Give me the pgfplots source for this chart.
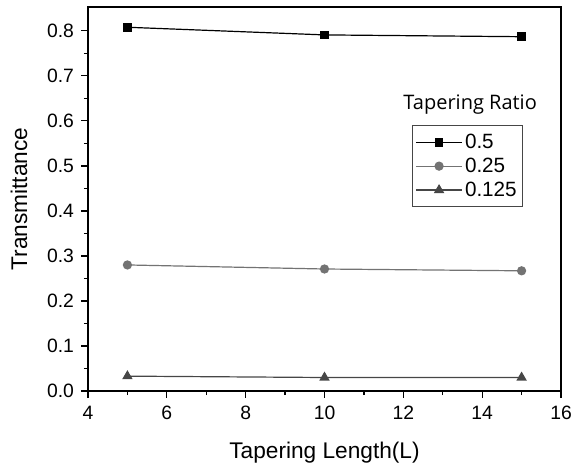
\documentclass[border=0pt]{standalone}
\usepackage{fontspec}
\setmainfont{Liberation Sans}
\newfontfamily\titlefont{Open Sans}
\usepackage{pgfplots}
\pgfplotsset{compat=1.18}
\definecolor{midgray}{RGB}{115,115,115}
\definecolor{darkgray}{RGB}{70,70,70}

\begin{document}
\begin{tikzpicture}
% page outline to fix proportions (573x468 px at 0.75pt/px)
\path[use as bounding box] (-66pt,-57.75pt) rectangle (363.75pt,293.25pt);
\begin{axis}[
  at={(0pt,0pt)}, anchor=south west,
  scale only axis,
  width=354.75pt, height=288pt,
  xmin=4, xmax=16, ymin=0, ymax=0.853,
  xtick={4,6,...,16},
  ytick={0,0.1,...,0.8},
  minor x tick num=1,
  minor y tick num=1,
  tick pos=left,
  tick align=outside,
  major tick length=5pt,
  minor tick length=3pt,
  axis line style={line width=1.2pt},
  every tick/.style={line width=0.9pt, black},
  tick label style={font=\fontsize{14.5}{17}\selectfont},
  /pgf/number format/assume math mode=true,
  yticklabel style={/pgf/number format/.cd, fixed, fixed zerofill, precision=1, /tikz/.cd, xshift=-2pt},
  xticklabel style={yshift=-3pt},
  xlabel={Tapering Length(L)},
  ylabel={Transmittance},
  label style={font=\fontsize{17}{20}\selectfont},
  xlabel style={at={(axis description cs:0.5,0)}, anchor=center, yshift=-46.5pt},
  ylabel style={at={(axis description cs:-0.146,0.5)}, anchor=center},
  legend style={at={(rel axis cs:0.685,0.693)}, anchor=north west,
    draw=darkgray, line width=0.7pt,
    font=\fontsize{15.5}{17}\selectfont,
    row sep=1.6pt, inner ysep=4.5pt, inner xsep=2.5pt},
  legend cell align=left,
  legend image code/.code={\draw[mark repeat=2,mark phase=2]
    plot coordinates {(0pt,0pt) (17pt,0pt) (34pt,0pt)};},
]
\addplot[black, line width=0.9pt, mark=square*, mark size=2.8pt,
  mark options={solid, fill=black}] coordinates {
  (5,0.808) (10,0.791) (15,0.787)
}; \addlegendentry{0.5}
\addplot[midgray, line width=0.9pt, mark=*, mark size=3pt,
  mark options={solid, fill=midgray}] coordinates {
  (5,0.280) (10,0.271) (15,0.267)
}; \addlegendentry{0.25}
\addplot[darkgray, line width=0.9pt, mark=triangle*, mark size=3.6pt,
  mark options={solid, fill=darkgray}] coordinates {
  (5,0.033) (10,0.030) (15,0.030)
}; \addlegendentry{0.125}
\node[font=\titlefont\fontsize{15}{18}\selectfont, anchor=center]
  at (rel axis cs:0.808,0.745) {Tapering Ratio};
\end{axis}
\end{tikzpicture}
\end{document}
